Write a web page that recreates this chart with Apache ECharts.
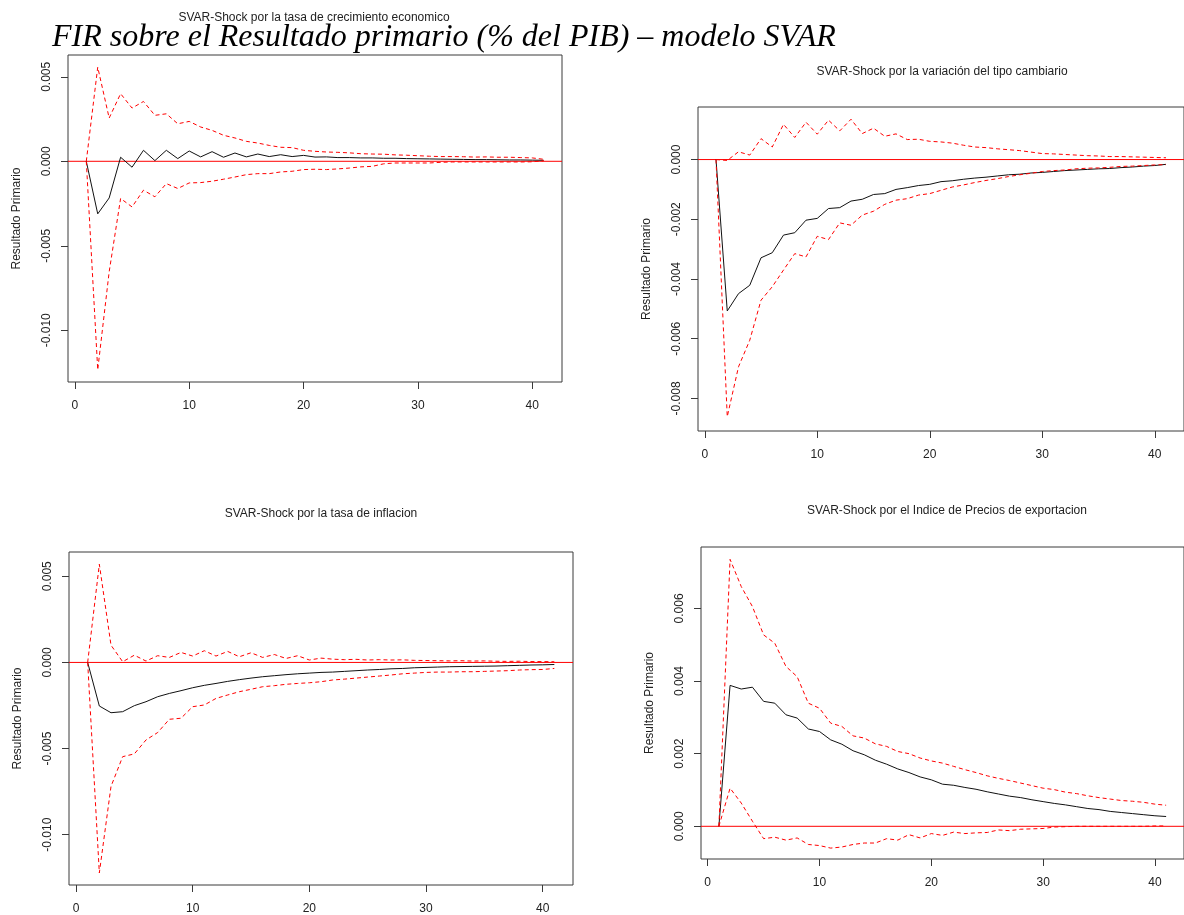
<!DOCTYPE html>
<html><head><meta charset="utf-8">
<script src="https://cdn.jsdelivr.net/npm/echarts@6/dist/echarts.min.js"></script>
<style>html,body{margin:0;padding:0;background:#fff}#c{width:1184px;height:915px}</style>
</head><body><div id="c"></div><script>
// ---- data ----
const horizon = [1,2,3,4,5,6,7,8,9,10,11,12,13,14,15,16,17,18,19,20,21,22,23,24,25,26,27,28,29,30,31,32,33,34,35,36,37,38,39,40,41];
const xTicks = [0, 10, 20, 30, 40];
const xRange = [-0.6, 42.6];

const mainTitle = "FIR sobre el Resultado primario (% del PIB) \u2013 modelo SVAR";
const panelTitles = [
  "SVAR-Shock por la tasa de crecimiento economico",
  "SVAR-Shock por la variaci\u00f3n del tipo cambiario",
  "SVAR-Shock por la tasa de inflacion",
  "SVAR-Shock por el Indice de Precios de exportacion"
];
const yLabel = "Resultado Primario";
const zeroRef = 0;

// Panel 1: tasa de crecimiento economico
const p1Ticks = [-0.010, -0.005, 0.000, 0.005];
const p1Mid = [0, -0.00311, -0.00217, 0.00024, -0.00035, 0.00065, 0.00004, 0.00065, 0.00016, 0.00061, 0.00026, 0.00057, 0.00024, 0.00049, 0.00026, 0.00043, 0.00028, 0.00039, 0.00028, 0.00035, 0.00025, 0.00026, 0.00022, 0.00022, 0.0002, 0.0002, 0.00018, 0.00018, 0.00016, 0.00015, 0.00014, 0.00013, 0.00012, 0.00011, 0.0001, 0.0001, 0.00009, 0.00008, 0.00008, 0.00007, 0.00006];
const p1Up = [0, 0.00557, 0.00256, 0.0040, 0.00315, 0.00354, 0.00272, 0.00281, 0.00222, 0.00236, 0.00203, 0.00183, 0.00154, 0.00138, 0.00118, 0.00108, 0.00094, 0.00083, 0.00081, 0.00065, 0.00059, 0.00055, 0.00053, 0.0005, 0.00045, 0.00043, 0.00042, 0.00038, 0.00036, 0.00033, 0.0003, 0.00028, 0.00028, 0.00027, 0.00025, 0.00026, 0.00024, 0.00024, 0.00022, 0.0002, 0.00012];
const p1Lo = [0, -0.01234, -0.00654, -0.0022, -0.0027, -0.00171, -0.0021, -0.00132, -0.00161, -0.00128, -0.00126, -0.00118, -0.00106, -0.00093, -0.00079, -0.00073, -0.00073, -0.00063, -0.00059, -0.00049, -0.00047, -0.00049, -0.00045, -0.0004, -0.00033, -0.0003, -0.00015, -0.0001, -0.0001, -0.0001, -0.0001, -0.00006, -0.00004, -0.00004, -0.00004, -0.00004, -0.00004, -0.00004, -0.00004, -0.00003, 0.00003];

// Panel 2: variacion del tipo cambiario
const p2Ticks = [-0.008, -0.006, -0.004, -0.002, 0.000];
const p2Mid = [0, -0.00507, -0.00449, -0.00421, -0.00329, -0.00312, -0.00253, -0.00245, -0.00203, -0.00197, -0.00164, -0.00161, -0.00139, -0.00133, -0.00117, -0.00114, -0.001, -0.00094, -0.00087, -0.00083, -0.00074, -0.00071, -0.00066, -0.00062, -0.00059, -0.00055, -0.00051, -0.00049, -0.00045, -0.00043, -0.0004, -0.00037, -0.00035, -0.00033, -0.00031, -0.0003, -0.00027, -0.00025, -0.00022, -0.0002, -0.00016];
const p2Up = [0, -0.00003, 0.00026, 0.00015, 0.0007, 0.00042, 0.00118, 0.00074, 0.00125, 0.00085, 0.00132, 0.00096, 0.00135, 0.00087, 0.00105, 0.00078, 0.00086, 0.00067, 0.00068, 0.00061, 0.00059, 0.00055, 0.00048, 0.00042, 0.0004, 0.00036, 0.00033, 0.0003, 0.00025, 0.0002, 0.00019, 0.00017, 0.00015, 0.00013, 0.00012, 0.0001, 0.0001, 0.00009, 0.00008, 0.00007, 0.00006];
const p2Lo = [0, -0.00861, -0.00694, -0.00605, -0.00471, -0.00426, -0.0037, -0.00315, -0.00326, -0.00257, -0.00268, -0.00212, -0.0022, -0.00186, -0.00173, -0.0015, -0.00136, -0.00131, -0.00119, -0.00114, -0.00103, -0.00092, -0.00085, -0.00077, -0.0007, -0.00064, -0.00057, -0.00051, -0.00046, -0.0004, -0.00037, -0.00035, -0.00031, -0.00029, -0.00028, -0.00026, -0.00023, -0.00022, -0.0002, -0.00018, -0.00017];

// Panel 3: tasa de inflacion
const p3Ticks = [-0.010, -0.005, 0.000, 0.005];
const p3Mid = [0, -0.00253, -0.00292, -0.00286, -0.00251, -0.00228, -0.00199, -0.0018, -0.00164, -0.00147, -0.00133, -0.00122, -0.0011, -0.001, -0.00091, -0.00083, -0.00077, -0.00071, -0.00066, -0.00062, -0.00058, -0.00056, -0.00052, -0.00048, -0.00044, -0.00041, -0.00037, -0.00035, -0.00031, -0.00029, -0.00027, -0.00025, -0.00024, -0.00023, -0.00022, -0.00021, -0.00019, -0.00017, -0.00015, -0.00014, -0.00012];
const p3Up = [0, 0.0057, 0.001, 0.00004, 0.00042, 0.00008, 0.00039, 0.00029, 0.00058, 0.00037, 0.00068, 0.00037, 0.00064, 0.00033, 0.00056, 0.00029, 0.00046, 0.00023, 0.00039, 0.00014, 0.00025, 0.00019, 0.00016, 0.00018, 0.00014, 0.00016, 0.00014, 0.00015, 0.00012, 0.00011, 0.0001, 0.00009, 0.0001, 0.00008, 0.00009, 0.00007, 0.00006, 0.00007, 0.00005, 0.00005, 0.00004];
const p3Lo = [0, -0.01222, -0.0072, -0.00547, -0.00531, -0.0045, -0.00407, -0.0033, -0.00324, -0.00257, -0.00247, -0.00209, -0.00189, -0.0017, -0.00156, -0.00141, -0.00135, -0.00127, -0.00122, -0.00118, -0.00112, -0.00102, -0.00097, -0.00091, -0.00085, -0.00079, -0.00073, -0.00066, -0.00062, -0.00058, -0.00056, -0.00056, -0.00054, -0.00054, -0.00052, -0.0005, -0.00048, -0.00044, -0.00042, -0.00041, -0.00035];

// Panel 4: Indice de Precios de exportacion
const p4Ticks = [0.000, 0.002, 0.004, 0.006];
const p4Mid = [0, 0.00388, 0.00378, 0.00383, 0.00344, 0.00339, 0.00307, 0.00298, 0.00268, 0.00261, 0.00238, 0.00226, 0.00208, 0.00197, 0.00182, 0.00171, 0.00158, 0.00148, 0.00136, 0.00128, 0.00116, 0.00113, 0.00107, 0.00102, 0.00095, 0.00089, 0.00083, 0.00079, 0.00073, 0.00068, 0.00063, 0.00059, 0.00054, 0.00049, 0.00046, 0.00041, 0.00038, 0.00035, 0.00032, 0.00029, 0.00027];
const p4Up = [0, 0.00735, 0.0066, 0.00605, 0.00527, 0.00504, 0.0044, 0.00412, 0.00339, 0.00325, 0.00284, 0.00275, 0.00249, 0.00243, 0.00227, 0.0022, 0.00206, 0.002, 0.00188, 0.0018, 0.00174, 0.00165, 0.00156, 0.00148, 0.00139, 0.00132, 0.00126, 0.00119, 0.00112, 0.00105, 0.00101, 0.00094, 0.0009, 0.00084, 0.00079, 0.00075, 0.00071, 0.00069, 0.00066, 0.00061, 0.00058];
const p4Lo = [0, 0.00105, 0.00064, 0.00014, -0.00034, -0.0003, -0.00038, -0.00032, -0.0005, -0.00053, -0.0006, -0.00057, -0.0005, -0.00046, -0.00046, -0.00034, -0.00038, -0.00023, -0.00032, -0.0002, -0.00025, -0.00016, -0.0002, -0.00018, -0.00017, -0.0001, -0.00012, -0.00008, -0.00007, -0.00006, -0.00002, -0.00001, 0, 0, 0, 0, 0, 0, 0, 0.00001, 0.00001];

// ---- layout (not data) ----
const panels = [
  {grid:{left:68, top:55, width:494, height:327}, yMin:-0.01306, yMax:0.00629, ticks:p1Ticks, mid:p1Mid, up:p1Up, lo:p1Lo, tx:314, ty:18},
  {grid:{left:698, top:107, width:488, height:324}, yMin:-0.00909, yMax:0.00176, ticks:p2Ticks, mid:p2Mid, up:p2Up, lo:p2Lo, tx:942, ty:72},
  {grid:{left:69, top:552, width:504, height:333}, yMin:-0.01292, yMax:0.00641, ticks:p3Ticks, mid:p3Mid, up:p3Up, lo:p3Lo, tx:321, ty:514},
  {grid:{left:701, top:547, width:493, height:312}, yMin:-0.0009, yMax:0.00769, ticks:p4Ticks, mid:p4Mid, up:p4Up, lo:p4Lo, tx:947, ty:511}
];

const FONT = '"Liberation Sans", Arial, sans-serif';
const pairs = arr => horizon.map((h, i) => [h, arr[i]]);

const grids = [], xAxes = [], yAxes = [], series = [], graphics = [];
panels.forEach((p, i) => {
  grids.push(Object.assign({show:true, borderColor:'#3a3a3a', borderWidth:1, backgroundColor:'transparent'}, p.grid));
  xAxes.push({
    gridIndex:i, type:'value', min:xRange[0], max:xRange[1],
    axisLine:{show:false, onZero:false}, splitLine:{show:false},
    axisTick:{show:true, inside:false, length:7, customValues:xTicks, lineStyle:{color:'#3a3a3a'}},
    axisLabel:{show:true, customValues:xTicks, margin:18, color:'#222', fontSize:12, fontFamily:FONT}
  });
  yAxes.push({
    gridIndex:i, type:'value', min:p.yMin, max:p.yMax,
    axisLine:{show:false, onZero:false}, splitLine:{show:false},
    axisTick:{show:true, inside:false, length:7, customValues:p.ticks, lineStyle:{color:'#3a3a3a'}},
    axisLabel:{show:true, customValues:p.ticks, rotate:90, margin:15, color:'#222', fontSize:12, fontFamily:FONT,
      formatter: v => Number(v).toFixed(3)},
    name: yLabel, nameLocation:'middle', nameRotate:90, nameGap:45,
    nameTextStyle:{color:'#222', fontSize:12, fontFamily:FONT}
  });
  // zero reference line (abline h = 0) across the full x range of the axis
  series.push({
    type:'line', xAxisIndex:i, yAxisIndex:i, data:[[xRange[0], zeroRef], [xRange[1], zeroRef]],
    symbol:'none', showSymbol:false, silent:true, z:2,
    lineStyle:{color:'#ff0000', width:1, type:'solid'}
  });
  series.push({
    type:'line', xAxisIndex:i, yAxisIndex:i, data:pairs(p.mid), symbol:'none', showSymbol:false,
    lineStyle:{color:'#111', width:1, type:'solid'}, silent:true, z:3
  });
  [p.up, p.lo].forEach(arr => series.push({
    type:'line', xAxisIndex:i, yAxisIndex:i, data:pairs(arr), symbol:'none', showSymbol:false,
    lineStyle:{color:'#ff0000', width:1, type:[4,3]}, silent:true, z:4
  }));
  graphics.push({type:'text', x:p.tx, y:p.ty, style:{text:panelTitles[i], font:'12px ' + FONT, fill:'#222',
    align:'center', verticalAlign:'middle', textAlign:'center', textVerticalAlign:'middle'}});
});
graphics.push({type:'text', x:52, y:38, z:10, style:{text:mainTitle, font:'italic 32px "Liberation Serif", "Times New Roman", serif', fill:'#000',
  align:'left', verticalAlign:'middle', textAlign:'left', textVerticalAlign:'middle'}});

const chart = echarts.init(document.getElementById('c'), null, {renderer:'canvas'});
chart.setOption({
  animation:false, backgroundColor:'#fff',
  grid:grids, xAxis:xAxes, yAxis:yAxes, series:series, graphic:graphics
});
</script></body></html>
